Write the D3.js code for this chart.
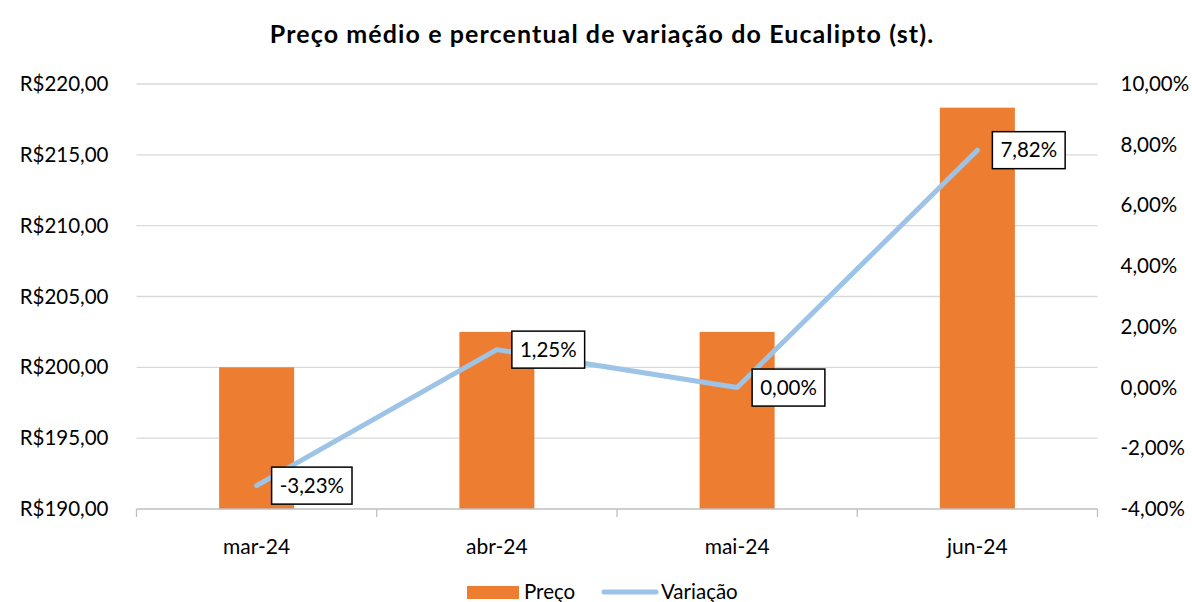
<!DOCTYPE html>
<html><head><meta charset="utf-8">
<script src="https://cdn.jsdelivr.net/npm/d3@7"></script>
<style>body{margin:0;background:#fff;} svg{display:block;font-family:Lato,"Open Sans",sans-serif;}</style>
</head><body>
<svg id="c" width="1192" height="602"></svg>
<script>
const categories = ["mar-24","abr-24","mai-24","jun-24"];
const preco = [200.00, 202.50, 202.50, 218.33];
const variacao = [-3.23, 1.25, 0.00, 7.82];
const leftTicks = [190,195,200,205,210,215,220];
const rightTicks = [-4,-2,0,2,4,6,8,10];
const title = "Preço médio e percentual de variação do Eucalipto (st).";

const svg = d3.select("#c");
const m={l:136.5,r:1097.5,t:84,b:509};
const x=d3.scaleBand().domain(categories).range([m.l,m.r]).padding(0);
const yL=d3.scaleLinear().domain([190,220]).range([m.b,m.t]);
const yR=d3.scaleLinear().domain([-4,10]).range([m.b,m.t]);
const fmtR=v=>"R$"+d3.format(".2f")(v).replace(".",",");
const fmtP=v=>d3.format(".2f")(v).replace(".",",").replace("\u2212","-")+"%";

svg.append("text").attr("x",602).attr("y",43).attr("text-anchor","middle")
  .attr("font-size",25).attr("font-weight","bold").attr("letter-spacing",1.1).attr("fill","#000").text(title);

// gridlines
svg.append("g").selectAll("line").data(leftTicks.filter(d=>d!==190)).join("line")
  .attr("x1",m.l).attr("x2",m.r).attr("y1",d=>yL(d)).attr("y2",d=>yL(d))
  .attr("stroke","#d9d9d9").attr("stroke-width",1.3);

// left axis
const gL=svg.append("g").attr("transform",`translate(${m.l},0)`)
  .call(d3.axisLeft(yL).tickValues(leftTicks).tickFormat(fmtR).tickSize(0).tickPadding(28));
gL.select(".domain").remove();
gL.selectAll("text").attr("font-size",20.5).attr("fill","#000").attr("font-family","Lato");

const gR=svg.append("g").attr("transform",`translate(${m.r},0)`)
  .call(d3.axisRight(yR).tickValues(rightTicks).tickFormat(fmtP).tickSize(0).tickPadding(23));
gR.select(".domain").remove();
gR.selectAll("text").attr("font-size",20.5).attr("fill","#000").attr("font-family","Lato");

// bars
const bw=75;
svg.append("g").selectAll("rect").data(categories).join("rect")
  .attr("x",(d)=>x(d)+x.bandwidth()/2-bw/2).attr("width",bw)
  .attr("y",(d,i)=>yL(preco[i])).attr("height",(d,i)=>yL(190)-yL(preco[i]))
  .attr("fill","#ED7D31");

// x axis
const gX=svg.append("g").attr("transform",`translate(0,${m.b})`);
gX.append("line").attr("x1",m.l).attr("x2",m.r).attr("stroke","#bfbfbf").attr("stroke-width",1.3);
const bounds=categories.map(c=>x(c)).concat([m.r]);
gX.selectAll("line.t").data(bounds).join("line").attr("class","t")
  .attr("x1",d=>d).attr("x2",d=>d).attr("y1",0).attr("y2",8).attr("stroke","#bfbfbf").attr("stroke-width",1.3);
gX.selectAll("text").data(categories).join("text")
  .attr("x",d=>x(d)+x.bandwidth()/2).attr("y",45).attr("text-anchor","middle")
  .attr("font-size",21).attr("fill","#000").text(d=>d);

// line
const pts=categories.map((c,i)=>[x(c)+x.bandwidth()/2,yR(variacao[i])]);
svg.append("path").attr("d",d3.line()(pts)).attr("fill","none")
  .attr("stroke","#9DC3E6").attr("stroke-width",5).attr("stroke-linecap","round").attr("stroke-linejoin","round");

// labels
const lg=svg.append("g");
pts.forEach((p,i)=>{
  const g=lg.append("g");
  const t=g.append("text").attr("x",p[0]+23).attr("y",p[1]).attr("dy","0.35em")
    .attr("font-size",20.5).attr("fill","#000").text(fmtP(variacao[i]));
  const bb=t.node().getBBox();
  g.insert("rect","text").attr("x",p[0]+15).attr("y",p[1]-18.5)
    .attr("width",bb.width+16).attr("height",37).attr("fill","#fff").attr("stroke","#000").attr("stroke-width",1.5);
});

// legend
const L=svg.append("g");
L.append("rect").attr("x",467).attr("y",586).attr("width",52).attr("height",13).attr("fill","#ED7D31");
L.append("text").attr("x",524).attr("y",592).attr("dy","0.35em").attr("font-size",20.5).attr("fill","#000").text("Preço");
L.append("line").attr("x1",604).attr("x2",656).attr("y1",592).attr("y2",592).attr("stroke","#9DC3E6").attr("stroke-width",5).attr("stroke-linecap","round");
L.append("text").attr("x",661).attr("y",592).attr("dy","0.35em").attr("font-size",20.5).attr("fill","#000").text("Variação");
</script>
</body></html>
